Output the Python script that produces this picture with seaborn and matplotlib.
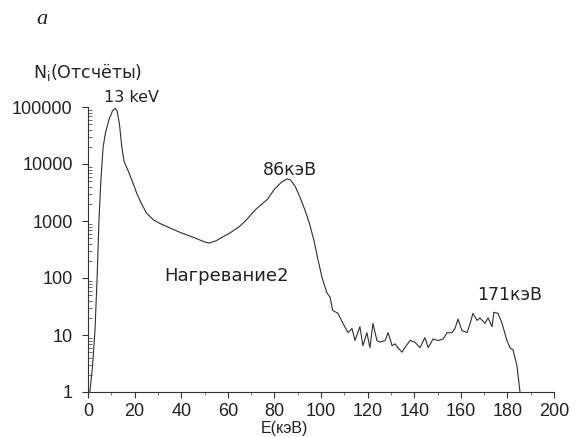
import matplotlib
matplotlib.use("Agg")
import matplotlib.pyplot as plt
import matplotlib.ticker as mticker
import seaborn as sns
import pandas as pd

# --- data ---
energy_kev = [0.8, 2, 3, 3.9, 4.7, 5.5, 6.5, 7.5, 9, 10.5, 11.6, 12.5, 13.5, 14.5, 15.5,
              17, 19, 21, 23, 25, 28, 31, 35, 40, 45, 50, 52, 55, 58, 61, 65, 68, 72,
              77, 80, 83, 85.5, 87, 89, 91, 93, 95, 97, 98.7, 100.5, 102.5, 103.9, 105,
              107.3, 109.4, 111.6, 113.3, 114.6, 116.7, 118, 119.7, 121, 122.3, 124,
              125.3, 127.5, 128.8, 130.5, 131.8, 133, 134.8, 136, 138.2, 140.3, 142.5,
              144.6, 146, 148.1, 150.2, 152.4, 154.1, 156.2, 157.5, 158.8, 160.5, 162.7,
              164, 165.2, 167, 168.2, 170.4, 171.7, 173.4, 174.2, 176, 177.7, 179.8,
              181.1, 182.4, 184.1, 185.4]
counts = [1, 3, 12, 100, 1000, 5000, 20000, 35000, 60000, 85000, 95000, 85000, 50000,
          20000, 11000, 8000, 5000, 3000, 2000, 1400, 1050, 900, 760, 620, 520, 430, 410,
          450, 530, 620, 800, 1050, 1600, 2400, 3600, 4800, 5500, 5200, 4000, 2600, 1600,
          920, 450, 210, 100, 55, 46, 27, 24, 16, 11, 13, 8, 14, 6.5, 11, 6, 16, 8, 7.5,
          8, 11, 6.5, 7, 6, 5, 6, 8, 7.5, 6, 9, 6, 8.5, 8, 8.5, 11, 11, 13, 19, 12, 11,
          16, 24, 18, 20, 16, 20, 14, 25, 24, 16, 8, 6, 5.5, 2.9, 1]

x_ticks = [0, 20, 40, 60, 80, 100, 120, 140, 160, 180, 200]
y_ticks = [1, 10, 100, 1000, 10000, 100000]
y_tick_labels = ["1", "10", "100", "1000", "10000", "100000"]

peak_labels = ["13 keV", "86кэВ", "171кэВ"]
series_label = "Нагревание2"

df = pd.DataFrame({"E": energy_kev, "N": counts})

sns.set_style("ticks")
plt.rcParams["font.family"] = ["Liberation Sans", "DejaVu Sans"]

W, H = 581, 437
fig = plt.figure(figsize=(W / 100, H / 100), dpi=100)
ax = fig.add_axes([88 / W, 1 - 392 / H, (554 - 88) / W, (392 - 107) / H])

sns.lineplot(data=df, x="E", y="N", ax=ax, sort=False, estimator=None,
             color="#2e2e2e", linewidth=0.8)

ax.set_yscale("log")
ax.set_xlim(0, 200)
ax.set_ylim(1, 100000)
ax.set_xticks(x_ticks)
ax.set_xticklabels([str(t) for t in x_ticks])
ax.xaxis.set_minor_locator(mticker.MultipleLocator(10))
ax.yaxis.set_major_locator(mticker.FixedLocator(y_ticks))
ax.yaxis.set_major_formatter(mticker.FixedFormatter(y_tick_labels))
ax.yaxis.set_minor_locator(mticker.LogLocator(base=10, subs=range(2, 10)))
ax.yaxis.set_minor_formatter(mticker.NullFormatter())

ax.tick_params(axis="both", which="major", labelsize=13, length=4, width=0.8,
               color="#333333", labelcolor="#222222")
ax.tick_params(axis="y", which="major", pad=7)
ax.tick_params(axis="x", which="major", pad=4)
ax.tick_params(axis="y", which="minor", direction="in", length=3, width=0.6, color="#555555")
ax.tick_params(axis="x", which="minor", length=2.5, width=0.6, color="#555555")
ax.set_xlabel("")
ax.set_ylabel("")
sns.despine(ax=ax)
for s in ("left", "bottom"):
    ax.spines[s].set_linewidth(0.8)
    ax.spines[s].set_color("#333333")

def ftext(px, py, s, **kw):
    fig.text(px / W, 1 - py / H, s, **kw)

wide = ["DejaVu Sans"]
ftext(42, 20, "a", fontsize=16, style="italic", family=["Liberation Serif"],
      ha="center", va="center", color="#222222")
ftext(33, 72, "N$_\\mathregular{i}$(Отсчёты)", fontsize=12.5, family=wide,
      ha="left", va="center", color="#222222")
ftext(131, 97, peak_labels[0], fontsize=11.5, family=wide, ha="center", va="center", color="#222222")
ftext(290, 170, peak_labels[1], fontsize=12.5, family=wide, ha="center", va="center", color="#222222")
ftext(510, 295, peak_labels[2], fontsize=12.5, family=wide, ha="center", va="center", color="#222222")
ftext(227, 276, series_label, fontsize=13, family=wide, ha="center", va="center", color="#222222")
ftext(284, 428, "E(кэВ)", fontsize=11.5, ha="center", va="center", color="#222222")

fig.savefig("out.png", dpi=100)
